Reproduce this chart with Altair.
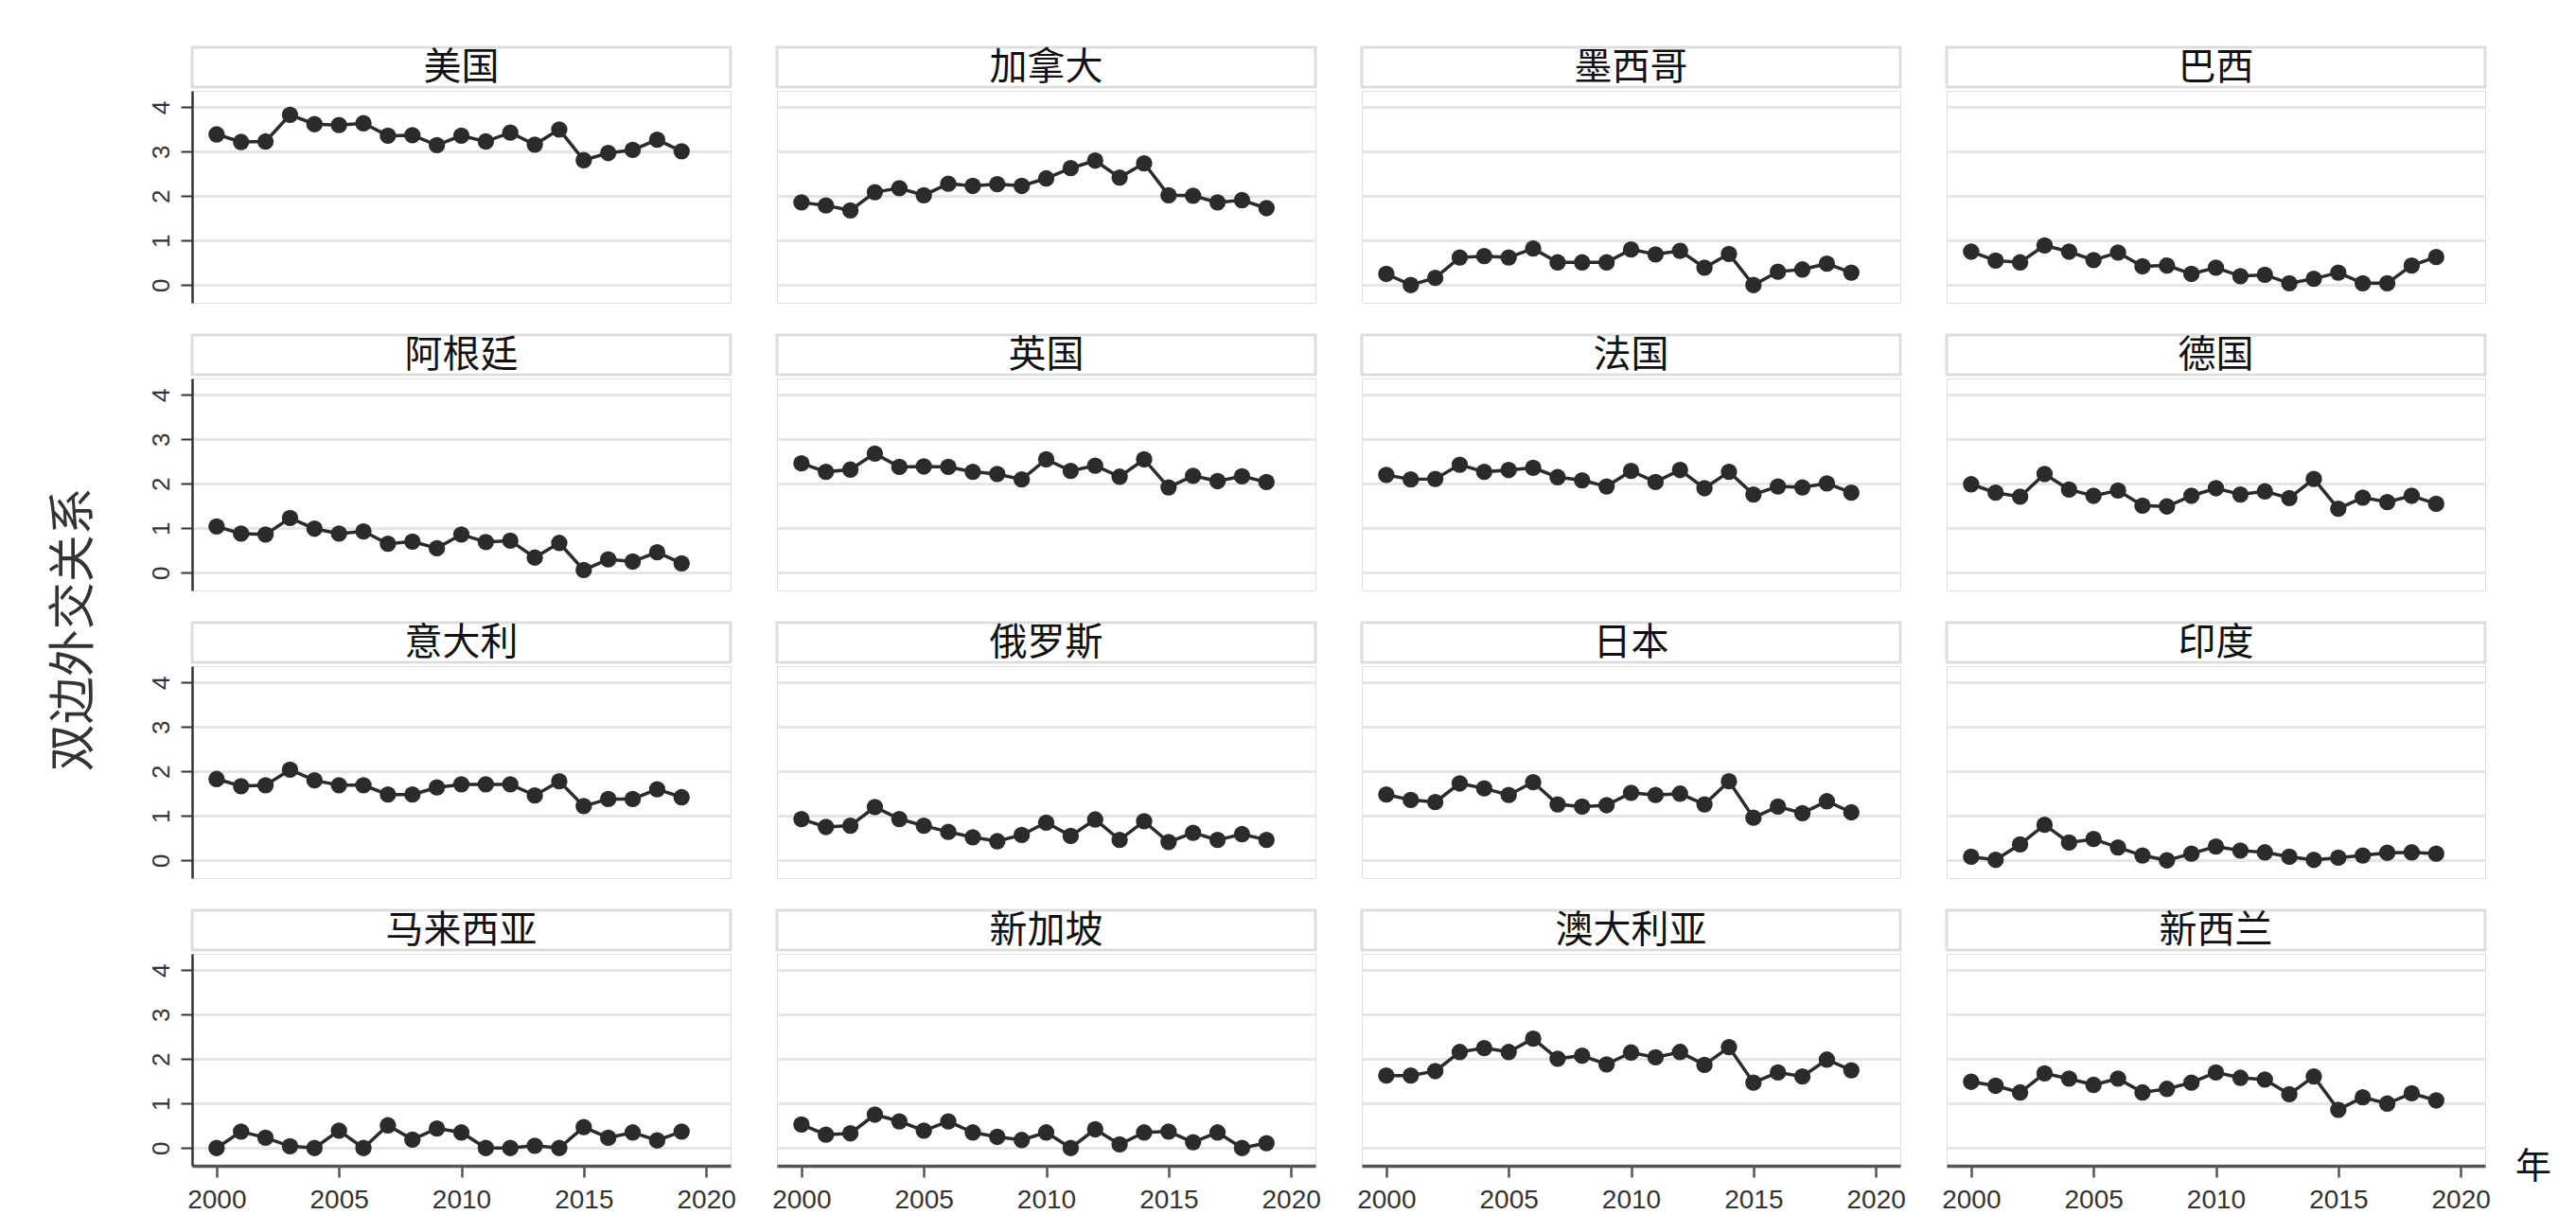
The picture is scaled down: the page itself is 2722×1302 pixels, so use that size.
import altair as alt
import pandas as pd

countries = ["美国", "加拿大", "墨西哥", "巴西",
             "阿根廷", "英国", "法国", "德国",
             "意大利", "俄罗斯", "日本", "印度",
             "马来西亚", "新加坡", "澳大利亚", "新西兰"]
years = list(range(2000, 2020))

usa = [3.39, 3.22, 3.23, 3.83, 3.62, 3.60, 3.64, 3.36, 3.37, 3.15, 3.36, 3.23, 3.43, 3.16, 3.50, 2.81, 2.97, 3.04, 3.27, 3.01]
canada = [1.86, 1.79, 1.68, 2.09, 2.18, 2.02, 2.28, 2.23, 2.27, 2.23, 2.40, 2.63, 2.80, 2.42, 2.74, 2.02, 2.01, 1.86, 1.91, 1.73]
mexico = [0.25, 0.00, 0.16, 0.62, 0.65, 0.62, 0.82, 0.51, 0.51, 0.51, 0.80, 0.69, 0.77, 0.39, 0.70, 0.00, 0.30, 0.35, 0.48, 0.28]
brazil = [0.75, 0.55, 0.51, 0.89, 0.75, 0.56, 0.73, 0.42, 0.44, 0.25, 0.39, 0.20, 0.23, 0.04, 0.14, 0.28, 0.04, 0.04, 0.44, 0.63]
argentina = [1.04, 0.88, 0.86, 1.23, 0.99, 0.88, 0.93, 0.65, 0.70, 0.55, 0.86, 0.69, 0.72, 0.34, 0.67, 0.06, 0.30, 0.25, 0.46, 0.21]
uk = [2.46, 2.27, 2.32, 2.68, 2.38, 2.39, 2.38, 2.27, 2.22, 2.10, 2.55, 2.29, 2.41, 2.16, 2.55, 1.92, 2.18, 2.06, 2.17, 2.04]
france = [2.20, 2.10, 2.11, 2.43, 2.27, 2.31, 2.36, 2.15, 2.08, 1.94, 2.29, 2.04, 2.31, 1.90, 2.27, 1.76, 1.94, 1.92, 2.01, 1.80]
germany = [1.99, 1.80, 1.71, 2.22, 1.87, 1.73, 1.85, 1.51, 1.49, 1.73, 1.90, 1.76, 1.83, 1.68, 2.11, 1.44, 1.69, 1.59, 1.73, 1.55]
italy = [1.83, 1.67, 1.69, 2.04, 1.80, 1.69, 1.69, 1.48, 1.48, 1.64, 1.71, 1.71, 1.71, 1.46, 1.78, 1.22, 1.38, 1.38, 1.60, 1.42]
russia = [0.93, 0.75, 0.78, 1.20, 0.93, 0.78, 0.64, 0.52, 0.43, 0.57, 0.85, 0.55, 0.92, 0.46, 0.88, 0.41, 0.62, 0.46, 0.59, 0.46]
japan = [1.48, 1.36, 1.31, 1.73, 1.62, 1.47, 1.76, 1.26, 1.21, 1.24, 1.52, 1.47, 1.50, 1.26, 1.78, 0.96, 1.21, 1.06, 1.33, 1.08]
india = [0.08, 0.01, 0.36, 0.80, 0.40, 0.48, 0.29, 0.11, 0.00, 0.15, 0.31, 0.22, 0.18, 0.08, 0.01, 0.06, 0.11, 0.17, 0.18, 0.15]
malaysia = [0.00, 0.37, 0.23, 0.04, 0.00, 0.39, 0.00, 0.51, 0.19, 0.44, 0.35, 0.00, 0.00, 0.05, 0.00, 0.47, 0.23, 0.35, 0.17, 0.37]
singapore = [0.53, 0.30, 0.33, 0.75, 0.60, 0.39, 0.60, 0.35, 0.25, 0.18, 0.35, 0.00, 0.42, 0.08, 0.35, 0.37, 0.13, 0.35, 0.00, 0.11]
australia = [1.63, 1.63, 1.73, 2.16, 2.25, 2.16, 2.46, 2.01, 2.08, 1.88, 2.15, 2.04, 2.16, 1.87, 2.27, 1.47, 1.70, 1.61, 1.99, 1.75]
new_zealand = [1.49, 1.40, 1.25, 1.68, 1.56, 1.42, 1.56, 1.25, 1.33, 1.47, 1.70, 1.58, 1.54, 1.21, 1.61, 0.86, 1.14, 1.00, 1.23, 1.07]

series = [usa, canada, mexico, brazil, argentina, uk, france, germany,
          italy, russia, japan, india, malaysia, singapore, australia, new_zealand]

y_ticks = [0, 1, 2, 3, 4]
x_ticks = [2000, 2005, 2010, 2015, 2020]
y_title = "双边外交关系"
x_title = "年"

rows_data = []
for name, vals in zip(countries, series):
    for yr, v in zip(years, vals):
        rows_data.append({"country": name, "year": yr, "value": v})
df = pd.DataFrame(rows_data)

W = 569
H = 224
SH = 42
INK = "#2b2b2b"
GRID = "#e6e6e6"
CJK = "Noto Sans CJK SC"
LATIN = "Liberation Sans"

xscale = alt.Scale(domain=[1999, 2021], nice=False, zero=False)
yscale = alt.Scale(domain=[-0.4, 4.37], nice=False, zero=False)


def strip(name):
    d = pd.DataFrame({"name": [name]})
    box = alt.Chart(d).mark_rect(fill="white", stroke="#dddddd", strokeWidth=3).encode(
        x=alt.value(0), x2=alt.value(W), y=alt.value(0), y2=alt.value(SH))
    txt = alt.Chart(d).mark_text(font=CJK, fontSize=40, color="#111111",
                                 baseline="middle", align="center").encode(
        text="name:N", x=alt.value(W / 2), y=alt.value(SH / 2 + 1))
    return alt.layer(box, txt).properties(width=W, height=SH)


def plot(name, r, c):
    if c == 0:
        yaxis = alt.Axis(values=y_ticks, title=None, grid=True, gridColor=GRID, gridWidth=3,
                         labelAngle=270, labelAlign="center", labelBaseline="bottom",
                         labelFont=LATIN, labelFontSize=26, labelColor="#333333", labelPadding=8,
                         domainColor="#333333", domainWidth=2.5, tickColor="#333333",
                         tickSize=12, tickWidth=2)
    else:
        yaxis = alt.Axis(values=y_ticks, title=None, grid=True, gridColor=GRID, gridWidth=3,
                         labels=False, ticks=False, domain=False)
    if r == 3:
        xaxis = alt.Axis(values=x_ticks, format="d", title=None, grid=False,
                         labelFont=LATIN, labelFontSize=28, labelColor="#333333",
                         labelPadding=10, labelFlush=False,
                         domainColor="#555555", domainWidth=3.5, tickColor="#555555",
                         tickSize=12, tickWidth=2.5)
    else:
        xaxis = None
    base = alt.Chart(df).transform_filter(alt.datum.country == name).encode(
        x=alt.X("year:Q", scale=xscale, axis=xaxis),
        y=alt.Y("value:Q", scale=yscale, axis=yaxis))
    line = base.mark_line(color=INK, strokeWidth=3.5)
    pts = base.mark_point(filled=True, size=300, color=INK, opacity=1)
    layers = [line, pts]
    if r == 3 and c == 3:
        d = pd.DataFrame({"t": [x_title]})
        layers.append(alt.Chart(d).mark_text(font=CJK, fontSize=38, color="#111111",
                                             align="left", baseline="middle").encode(
            text="t:N", x=alt.value(W + 32), y=alt.value(H + 2)))
    return alt.layer(*layers).properties(width=W, height=H)


grid_rows = []
for r in range(4):
    names = countries[r * 4:(r + 1) * 4]
    strips_row = alt.hconcat(*[strip(n) for n in names], spacing=49, bounds="flush")
    plots_row = alt.hconcat(*[plot(n, r, c) for c, n in enumerate(names)], spacing=49, bounds="flush")
    grid_rows.append(alt.vconcat(strips_row, plots_row, spacing=1))

chart = alt.vconcat(*grid_rows, spacing=31).properties(
    title=alt.TitleParams(y_title, orient="left", anchor="middle", font=CJK,
                          fontSize=50, fontWeight="normal", color="#333333", offset=53),
    padding={"left": 45, "top": 40, "right": 5, "bottom": 5},
).configure_view(stroke=None).configure(background="white")

chart.save("out.html", embed_options={"renderer": "svg", "actions": False})
